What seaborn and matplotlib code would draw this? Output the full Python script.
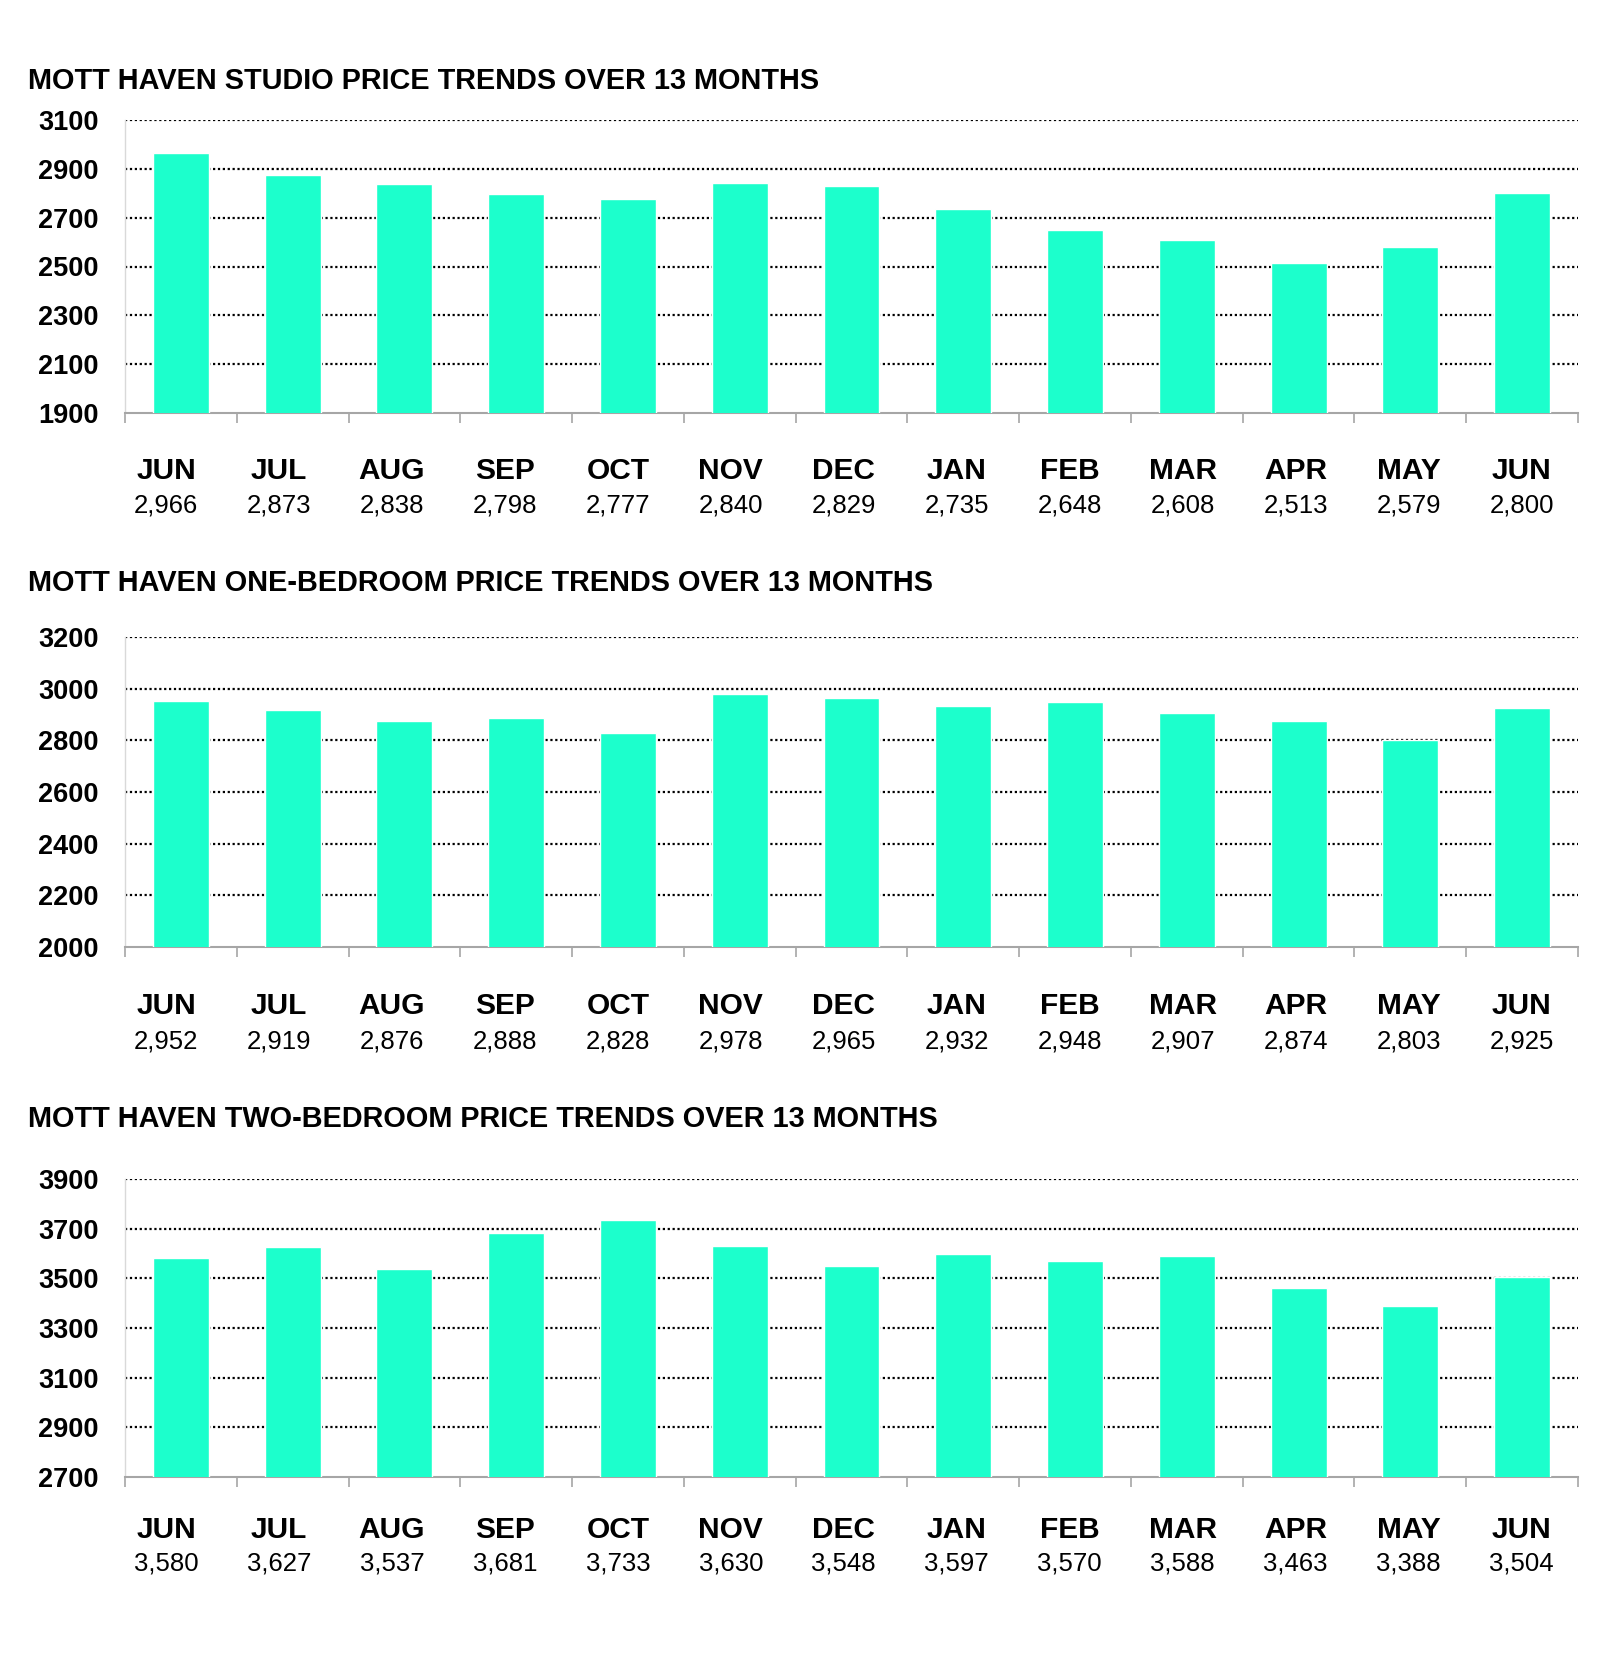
import pandas as pd
import matplotlib.pyplot as plt
import seaborn as sns

sns.set_style("white")
plt.rcParams['font.family'] = ['Liberation Sans', 'DejaVu Sans']
plt.rcParams['text.color'] = 'black'
plt.rcParams['ytick.color'] = 'black'

months = ['JUN', 'JUL', 'AUG', 'SEP', 'OCT', 'NOV', 'DEC',
          'JAN', 'FEB', 'MAR', 'APR', 'MAY', 'JUN']

studio = [2966, 2873, 2838, 2798, 2777, 2840, 2829, 2735, 2648, 2608, 2513, 2579, 2800]
one_bed = [2952, 2919, 2876, 2888, 2828, 2978, 2965, 2932, 2948, 2907, 2874, 2803, 2925]
two_bed = [3580, 3627, 3537, 3681, 3733, 3630, 3548, 3597, 3570, 3588, 3463, 3388, 3504]

titles = ['MOTT HAVEN STUDIO PRICE TRENDS OVER 13 MONTHS',
          'MOTT HAVEN ONE-BEDROOM PRICE TRENDS OVER 13 MONTHS',
          'MOTT HAVEN TWO-BEDROOM PRICE TRENDS OVER 13 MONTHS']
y_ranges = [(1900, 3100, 200), (2000, 3200, 200), (2700, 3900, 200)]

BAR = '#1cffcc'
W, H = 1600, 1659
LEFT, RIGHT = 125, 1578
# month captions sit in their own, slightly wider row under each chart
CAP_LEFT, CAP_STEP = 166, 112.96

# pixel layout: (axes top, axes bottom, title y, month y, value y)
layout = [(120, 413, 81, 471, 506),
          (637, 947, 583, 1006, 1041),
          (1179, 1477, 1119, 1530, 1564)]

fig = plt.figure(figsize=(16, 16.59), dpi=100)

for values, title, (lo, hi, step), (top, bot, ty, my, vy) in zip(
        [studio, one_bed, two_bed], titles, y_ranges, layout):
    ax = fig.add_axes([LEFT / W, 1 - bot / H, (RIGHT - LEFT) / W, (bot - top) / H])
    df = pd.DataFrame({'pos': range(len(values)), 'price': values})
    sns.barplot(data=df, x='pos', y='price', color=BAR, width=0.5,
                saturation=1, ax=ax, zorder=3)
    ax.set_xlim(-0.5, len(values) - 0.5)
    ax.set_ylim(lo, hi)
    ticks = list(range(lo, hi + 1, step))
    ax.set_yticks(ticks)
    ax.set_yticklabels([str(t) for t in ticks], fontsize=19.5, fontweight='bold',
                       color='black')
    ax.tick_params(axis='y', left=False, length=0, pad=19)
    ax.set_xticks([i - 0.5 for i in range(len(values) + 1)])
    ax.set_xticklabels([])
    ax.tick_params(axis='x', bottom=True, length=7, width=1.2,
                   color='#a6a6a6', direction='out')
    for t in ticks[1:]:
        ax.axhline(t, color='black', linestyle=(0, (1, 1.2)), linewidth=1.6, zorder=2)
    ax.set_xlabel('')
    ax.set_ylabel('')
    for s in ['top', 'right']:
        ax.spines[s].set_visible(False)
    ax.spines['left'].set_color('#d9d9d9')
    ax.spines['left'].set_linewidth(1)
    ax.spines['bottom'].set_color('#a6a6a6')
    ax.spines['bottom'].set_linewidth(1.5)

    fig.text(28 / W, 1 - ty / H, title, fontsize=20.8, fontweight='bold',
             ha='left', va='center')
    for i, (m, v) in enumerate(zip(months, values)):
        x_fig = (CAP_LEFT + i * CAP_STEP) / W
        fig.text(x_fig, 1 - my / H, m, fontsize=21.5, fontweight='bold',
                 ha='center', va='center')
        fig.text(x_fig, 1 - vy / H, f'{v:,}', fontsize=18.5,
                 ha='center', va='center')

fig.savefig('out.png', dpi=100, facecolor='white')
